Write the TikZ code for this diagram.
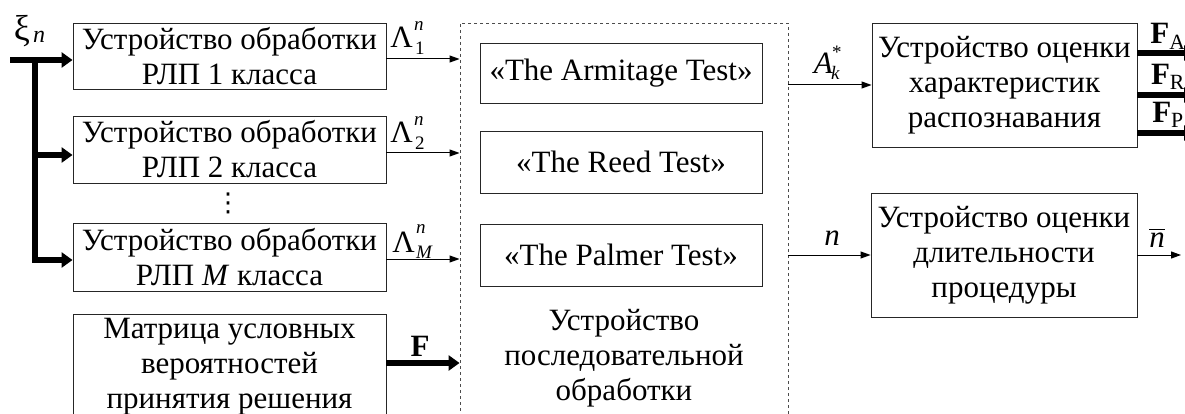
\documentclass[tikz,border=0pt]{standalone}
\usepackage{fontspec}
\usepackage{amsmath}
\setmainfont{Liberation Serif}
\newfontfamily\djv{DejaVu Sans}
\usetikzlibrary{arrows.meta}
\tikzset{
  box/.style={draw=black!85, line width=0.9pt, align=center, inner sep=0pt, font=\fontsize{31}{35}\selectfont},
  arr/.style={line width=1pt, -{Triangle[length=10pt,width=7pt]}},
  bus/.style={line width=6pt, line join=miter, -{Triangle[length=11pt,width=15pt]}},
  lbl/.style={inner sep=0pt, font=\fontsize{31}{35}\selectfont},
  scr/.style={inner sep=0pt, font=\fontsize{19}{20}\selectfont},
}
\begin{document}
\begin{tikzpicture}[x=1pt,y=-1pt]
\useasboundingbox (0,0) rectangle (1185,414);
% left boxes
\node[box, minimum width=313pt, minimum height=66pt] (b1) at (229.5,56) {Устройство обработки\\РЛП 1 класса};
\node[box, minimum width=313pt, minimum height=67pt] (b2) at (229.5,149.5) {Устройство обработки\\РЛП 2 класса};
\node[lbl, font=\djv\fontsize{26}{30}\selectfont] (dots) at (228,203) {⋮};
\node[box, minimum width=313pt, minimum height=68pt] (bM) at (229.5,257) {Устройство обработки\\РЛП \textit{M} класса};
\node[box, minimum width=313pt, minimum height=106pt] (bF) at (229.5,367) {Матрица условных\\вероятностей\\принятия решения};
% dashed block
\node[draw=black!70, dashed, line width=0.9pt, minimum width=328pt, minimum height=417pt, inner sep=0pt] (dsh) at (624,231.5) {};
\node[box, minimum width=282pt, minimum height=60pt] (t1) at (621,73) {«The Armitage Test»};
\node[box, minimum width=282pt, minimum height=62pt] (t2) at (621,162) {«The Reed Test»};
\node[box, minimum width=282pt, minimum height=62pt] (t3) at (621,255) {«The Palmer Test»};
\node[lbl, align=center] (seq) at (624,358) {Устройство\\последовательной\\обработки};
% right boxes
\node[box, minimum width=265pt, minimum height=124pt] (r1) at (1004.5,85) {Устройство оценки\\характеристик\\распознавания};
\node[box, minimum width=266pt, minimum height=124pt] (r2) at (1004,255) {Устройство оценки\\длительности\\процедуры};
% input bus
\node[lbl, font=\fontsize{36}{38}\selectfont] (xi) at (22,31) {ξ};
\node[scr, font=\fontsize{24}{26}\selectfont, anchor=west] (xin) at (33,37) {\textit{n}};
\coordinate (s) at (10,60);
\coordinate (j1) at (35,60);
\coordinate (j2) at (35,155);
\coordinate (j3) at (35,260);
\draw[bus] (s) -- (s -| b1.west);
\draw[bus] (j2) -- (j2 -| b2.west);
\draw[bus] (j1) -- (j3) -- (j3 -| bM.west);
% Lambda arrows
\draw[arr] ([yshift=-3pt]b1.east) -- ([yshift=-3pt]b1.east -| dsh.west);
\draw[arr] ([yshift=-3.5pt]b2.east) -- ([yshift=-3.5pt]b2.east -| dsh.west);
\draw[arr] ([yshift=-2pt]bM.east) -- ([yshift=-2pt]bM.east -| dsh.west);
\draw[bus] ([yshift=4pt]bF.east) -- ([yshift=4pt]bF.east -| dsh.west);
\node[lbl, anchor=east] (l1) at (413,37) {Λ};
\node[scr, anchor=west] (l1n) at (414,26) {\textit{n}};
\node[scr, anchor=west] (l1s) at (415,48) {1};
\node[lbl, anchor=east] (l2) at (413,132) {Λ};
\node[scr, anchor=west] (l2n) at (414,121) {\textit{n}};
\node[scr, anchor=west] (l2s) at (415,143) {2};
\node[lbl, anchor=east] (l3) at (415,242) {Λ};
\node[scr, anchor=west] (l3n) at (416,229) {\textit{n}};
\node[scr, anchor=west] (l3s) at (416,252) {\textit{M}};
\node[lbl] (lF) at (420,346) {\textbf{F}};
% outputs of sequential block
\draw[arr] (dsh.east |- r1.west) -- (r1.west);
\node[lbl, anchor=east] (la) at (833,63) {\textit{A}};
\node[scr, anchor=west] (las) at (832,52) {*};
\node[scr, anchor=west] (lak) at (831,73) {\textit{k}};
\draw[arr] (dsh.east |- r2.west) -- (r2.west);
\node[lbl] (ln) at (832,238) {\textit{n}};
\coordinate (nb) at (1181,255);
\draw[arr] (r2.east) -- (nb);
\node[lbl] (lnb) at (1157,238) {$\overline{\text{\textit{n}}}$};
% F outputs
\coordinate (fa) at (1195,53);
\coordinate (fr) at (1195,95);
\coordinate (fp) at (1195,133);
\draw[bus] (r1.east |- fa) -- (fa);
\draw[bus] (r1.east |- fr) -- (fr);
\draw[bus] (r1.east |- fp) -- (fp);
\node[lbl] (lfa) at (1168,36) {\textbf{F}\textsubscript{A}};
\node[lbl] (lfr) at (1168,77) {\textbf{F}\textsubscript{R}};
\node[lbl] (lfp) at (1168,115) {\textbf{F}\textsubscript{P}};
\end{tikzpicture}
\end{document}
